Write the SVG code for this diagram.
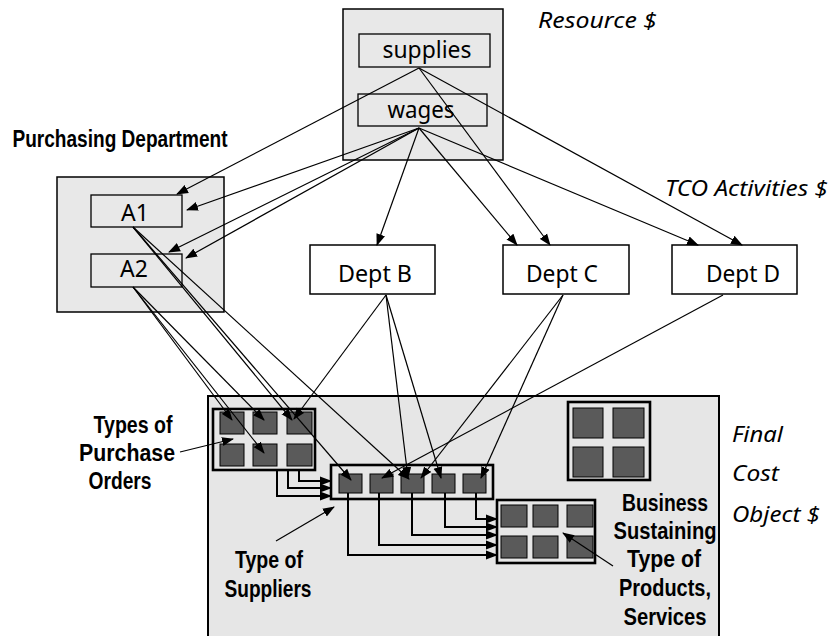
<svg xmlns="http://www.w3.org/2000/svg" width="832" height="636" viewBox="0 0 832 636">
<defs>
<marker id="ah" markerUnits="userSpaceOnUse" markerWidth="12" markerHeight="10" refX="11" refY="4.5" orient="auto" viewBox="0 0 12 9">
<path d="M0,0 L12,4.5 L0,9 z" fill="#000"/>
</marker>
<style>
.panel{fill:#e8e8e8;stroke:#000;stroke-width:1.5}
.box{fill:#fff;stroke:#000;stroke-width:1.5}
.inbox{fill:none;stroke:#000;stroke-width:1.3}
.grp{fill:none;stroke:#000;stroke-width:2.6}
.sq{fill:#5a5a5a;stroke:#000;stroke-width:1}
.t{font-family:"Noto Sans","Open Sans",sans-serif;font-size:23px;fill:#000;text-anchor:middle}
.it{font-family:"Noto Sans","Open Sans",sans-serif;font-size:22px;font-style:italic;fill:#000}
.b{font-family:"Liberation Sans",Arial,sans-serif;font-size:23px;font-weight:bold;fill:#000;text-anchor:middle}
.c{fill:none;stroke:#000;stroke-width:1.2;marker-end:url(#ah)}
.o{fill:none;stroke:#000;stroke-width:2;marker-end:url(#ah)}
</style>
</defs>

<g id="final-cost-object">
<rect x="208" y="396" width="511" height="250" fill="#e6e6e6" stroke="#000" stroke-width="2"/>
</g>

<g id="resource">
<rect class="panel" x="343" y="9" width="160" height="151"/>
<rect class="inbox" x="359" y="34" width="131" height="33"/>
<text class="t" x="427" y="58" textLength="89" lengthAdjust="spacingAndGlyphs">supplies</text>
<rect class="inbox" x="358" y="94" width="129" height="32"/>
<text class="t" x="421" y="118" textLength="67" lengthAdjust="spacingAndGlyphs">wages</text>
</g>

<g id="purchasing">
<rect class="panel" x="57" y="177" width="167" height="135"/>
<rect class="inbox" x="91" y="195" width="91" height="32"/>
<text class="t" x="135" y="221">A1</text>
<rect class="inbox" x="91" y="254" width="91" height="33"/>
<text class="t" x="134" y="277">A2</text>
</g>

<g id="dept-b"><rect class="box" x="310" y="245" width="125" height="49"/><text class="t" x="375" y="282" textLength="74" lengthAdjust="spacingAndGlyphs">Dept B</text></g>
<g id="dept-c"><rect class="box" x="503" y="245" width="126" height="49"/><text class="t" x="562" y="282" textLength="72" lengthAdjust="spacingAndGlyphs">Dept C</text></g>
<g id="dept-d"><rect class="box" x="672" y="245" width="125" height="49"/><text class="t" x="743" y="282" textLength="74" lengthAdjust="spacingAndGlyphs">Dept D</text></g>

<g id="purchase-orders">
<rect class="grp" x="213" y="409" width="102" height="61"/>
<rect class="sq" x="220" y="412" width="24" height="22"/>
<rect class="sq" x="253" y="412" width="24" height="22"/>
<rect class="sq" x="287" y="412" width="25" height="22"/>
<rect class="sq" x="220" y="444" width="24" height="22"/>
<rect class="sq" x="253" y="444" width="24" height="22"/>
<rect class="sq" x="287" y="444" width="25" height="22"/>
</g>

<g id="suppliers">
<rect class="grp" x="331" y="465" width="162" height="34"/>
<rect class="sq" x="339" y="474" width="23" height="19"/>
<rect class="sq" x="370" y="474" width="23" height="19"/>
<rect class="sq" x="401" y="474" width="23" height="19"/>
<rect class="sq" x="432" y="474" width="23" height="19"/>
<rect class="sq" x="463" y="474" width="23" height="19"/>
</g>

<g id="products">
<rect class="grp" x="497" y="500" width="98" height="63"/>
<rect class="sq" x="501" y="505" width="26" height="22"/>
<rect class="sq" x="533" y="505" width="25" height="22"/>
<rect class="sq" x="567" y="505" width="26" height="22"/>
<rect class="sq" x="501" y="536" width="26" height="22"/>
<rect class="sq" x="533" y="536" width="25" height="22"/>
<rect class="sq" x="567" y="536" width="26" height="22"/>
</g>

<g id="business-sustaining">
<rect class="grp" x="568" y="402" width="82" height="78"/>
<rect class="sq" x="573" y="408" width="30" height="30"/>
<rect class="sq" x="613" y="408" width="31" height="30"/>
<rect class="sq" x="573" y="447" width="30" height="30"/>
<rect class="sq" x="613" y="447" width="31" height="30"/>
</g>

<g id="connectors">
<line class="c" x1="419" y1="68" x2="177" y2="194"/>
<line class="c" x1="419" y1="68" x2="550" y2="245"/>
<line class="c" x1="419" y1="68" x2="742" y2="245"/>
<line class="c" x1="419" y1="128" x2="187" y2="210"/>
<line class="c" x1="419" y1="128" x2="169" y2="252"/>
<line class="c" x1="419" y1="128" x2="186" y2="258"/>
<line class="c" x1="419" y1="128" x2="377" y2="245"/>
<line class="c" x1="419" y1="128" x2="517" y2="245"/>
<line class="c" x1="419" y1="128" x2="698" y2="245"/>

<line class="c" x1="133" y1="287" x2="232" y2="420"/>
<line class="c" x1="133" y1="287" x2="264" y2="420"/>
<line class="c" x1="133" y1="287" x2="264" y2="453"/>
<line class="c" x1="133" y1="227" x2="292" y2="420"/>
<line class="c" x1="133" y1="227" x2="351" y2="480"/>
<line class="c" x1="133" y1="227" x2="409" y2="479"/>

<line class="c" x1="386" y1="295" x2="294" y2="419"/>
<line class="c" x1="386" y1="295" x2="408" y2="478"/>
<line class="c" x1="386" y1="295" x2="441" y2="478"/>
<line class="c" x1="563" y1="295" x2="421" y2="478"/>
<line class="c" x1="563" y1="295" x2="481" y2="478"/>
<line class="c" x1="723" y1="295" x2="382" y2="478"/>

<polyline class="o" points="299,470 299,481 331,481"/>
<polyline class="o" points="288,470 288,488 331,488"/>
<polyline class="o" points="277,470 277,496 331,496"/>

<polyline class="o" points="476,493 476,519 497,519"/>
<polyline class="o" points="445,493 445,527 497,527"/>
<polyline class="o" points="412,493 412,535 497,535"/>
<polyline class="o" points="379,493 379,545 497,545"/>
<polyline class="o" points="348,493 348,555 497,555"/>

<line class="c" x1="180" y1="452" x2="233" y2="439"/>
<line class="c" x1="276" y1="541" x2="334" y2="507"/>
<line class="c" x1="613" y1="566" x2="563" y2="533"/>
</g>

<g id="labels">
<text class="it" x="538" y="28" textLength="119" lengthAdjust="spacingAndGlyphs">Resource $</text>
<text class="it" x="665" y="196" textLength="163" lengthAdjust="spacingAndGlyphs">TCO Activities $</text>
<text class="it" x="732" y="442" textLength="51" lengthAdjust="spacingAndGlyphs">Final</text>
<text class="it" x="732" y="481" textLength="47" lengthAdjust="spacingAndGlyphs">Cost</text>
<text class="it" x="732" y="522" textLength="88" lengthAdjust="spacingAndGlyphs">Object $</text>
<text class="b" x="120" y="147" textLength="215" lengthAdjust="spacingAndGlyphs">Purchasing Department</text>
<text class="b" x="133" y="433" textLength="79" lengthAdjust="spacingAndGlyphs">Types of</text>
<text class="b" x="127" y="461" textLength="96" lengthAdjust="spacingAndGlyphs">Purchase</text>
<text class="b" x="120" y="489" textLength="63" lengthAdjust="spacingAndGlyphs">Orders</text>
<text class="b" x="269" y="568" textLength="68" lengthAdjust="spacingAndGlyphs">Type of</text>
<text class="b" x="268" y="597" textLength="87" lengthAdjust="spacingAndGlyphs">Suppliers</text>
<text class="b" x="665" y="511" textLength="86" lengthAdjust="spacingAndGlyphs">Business</text>
<text class="b" x="665" y="539" textLength="103" lengthAdjust="spacingAndGlyphs">Sustaining</text>
<text class="b" x="664" y="567" textLength="74" lengthAdjust="spacingAndGlyphs">Type of</text>
<text class="b" x="665" y="596" textLength="92" lengthAdjust="spacingAndGlyphs">Products,</text>
<text class="b" x="665" y="625" textLength="83" lengthAdjust="spacingAndGlyphs">Services</text>
</g>
</svg>
